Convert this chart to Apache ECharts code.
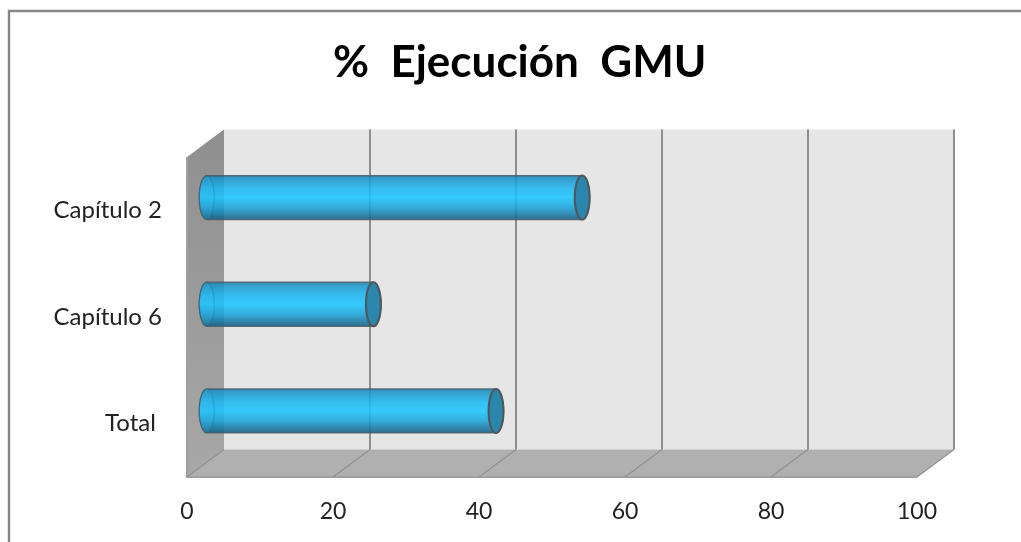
<!DOCTYPE html>
<html>
<head>
<meta charset="utf-8">
<style>html,body{margin:0;padding:0;background:#fff}#c{width:1021px;height:542px}</style>
<script src="https://cdn.jsdelivr.net/npm/echarts@6/dist/echarts.min.js"></script>
</head>
<body>
<div id="c"></div>
<script>
const titleText = '%  Ejecución  GMU';
const categories = ['Capítulo 2', 'Capítulo 6', 'Total '];
const values = [51.6, 23.0, 39.8];
const xTicks = [0, 20, 40, 60, 80, 100];

const depthX = 37, depthY = 27.5;
const font = 'Lato, "Open Sans", sans-serif';
const chart = echarts.init(document.getElementById('c'), null, {renderer: 'canvas'});

function renderWalls(params) {
  const g = params.coordSys;
  const l = g.x, r = g.x + g.width, t = g.y, b = g.y + g.height;
  return {
    type: 'group', silent: true, children: [
      {type: 'polygon', shape: {points: [[l + depthX, t - depthY], [r + depthX, t - depthY], [r + depthX, b - depthY], [l + depthX, b - depthY]]},
        style: {fill: '#e6e6e6'}},
      {type: 'polygon', shape: {points: [[l, t], [l + depthX, t - depthY], [l + depthX, b - depthY], [l, b]]},
        style: {fill: new echarts.graphic.LinearGradient(0, 0, 0, 1, [{offset: 0, color: '#8f8f8f'}, {offset: 1, color: '#a8a8a8'}])}},
      {type: 'polygon', shape: {points: [[l, b], [l + depthX, b - depthY], [r + depthX, b - depthY], [r, b]]},
        style: {fill: '#b0b0b0'}},
      {type: 'polyline', shape: {points: [[l, t], [l, b], [r, b]]},
        style: {stroke: '#a0a0a0', lineWidth: 2, fill: 'none'}}
    ]
  };
}

function renderGrid(params, api) {
  const g = params.coordSys;
  const v = api.value(0);
  const x = api.coord([v, 0])[0];
  const t = g.y - depthY, b = g.y + g.height;
  const children = [
    {type: 'line', shape: {x1: x, y1: b, x2: x + depthX, y2: b - depthY},
      style: {stroke: '#929292', lineWidth: 1.3}}
  ];
  if (v !== xTicks[0]) {
    children.push({type: 'line', shape: {x1: x + depthX, y1: t, x2: x + depthX, y2: b - depthY},
      style: {stroke: '#8e8e8e', lineWidth: 2}});
  }
  return {type: 'group', silent: true, children};
}

function renderBar(params, api) {
  const size = api.size([0, 1])[1];
  const base = api.coord([0, api.value(1)]);
  const end = api.coord([api.value(0), api.value(1)]);
  const ry = size * 0.2065, rx = 7.5;
  const cy = base[1] - depthY / 2 + 1, x0 = base[0] + depthX / 2 + 1.2, x1 = end[0] + depthX / 2;
  const pts = [];
  for (let a = 90; a <= 270; a += 10) {
    const rad = a * Math.PI / 180;
    pts.push([x0 + rx * Math.cos(rad), cy - ry * Math.sin(rad)]);
  }
  for (let a = 270; a <= 450; a += 10) {
    const rad = a * Math.PI / 180;
    pts.push([x1 + rx * Math.cos(rad), cy - ry * Math.sin(rad)]);
  }
  const grad = new echarts.graphic.LinearGradient(0, 0, 0, 1, [
    {offset: 0, color: '#1b6a90'}, {offset: 0.07, color: '#1a92c6'}, {offset: 0.3, color: '#1cb6f2'},
    {offset: 0.5, color: '#1cc6ff'}, {offset: 0.72, color: '#18a3da'}, {offset: 0.92, color: '#166e96'},
    {offset: 1, color: '#125a78'}
  ]);
  return {
    type: 'group', children: [
      {type: 'polygon', shape: {points: pts}, style: {fill: grad, stroke: '#4d5d66', lineWidth: 1.3, opacity: 0.87}},
      {type: 'ellipse', shape: {cx: x0, cy: cy, rx: rx, ry: ry}, style: {fill: 'rgba(60,200,255,0.12)', stroke: 'rgba(20,90,120,0.3)', lineWidth: 1}},
      {type: 'ellipse', shape: {cx: x1, cy: cy, rx: rx, ry: ry}, style: {fill: '#2a86ab', stroke: '#50565a', lineWidth: 2}}
    ]
  };
}

chart.setOption({
  animation: false,
  backgroundColor: '#ffffff',
  title: {
    text: titleText, left: 328, top: 36,
    textStyle: {fontFamily: font, fontWeight: 'bold', fontSize: 44, color: '#000'}
  },
  grid: {left: 187, right: 104, top: 157, bottom: 65, containLabel: false},
  xAxis: {
    type: 'value', min: 0, max: 100, interval: 20,
    axisLine: {show: false}, axisTick: {show: false}, splitLine: {show: false},
    axisLabel: {fontFamily: font, fontSize: 23, color: '#222', margin: 23}
  },
  yAxis: {
    type: 'category', inverse: true, data: categories,
    axisLine: {show: false}, axisTick: {show: false}, splitLine: {show: false},
    axisLabel: {fontFamily: font, fontSize: 24, color: '#222', margin: 25, padding: [4, 0, 0, 0]}
  },
  graphic: [{
    type: 'polyline', silent: true, shape: {points: [[9, 542], [9, 11], [1021, 11]]},
    style: {stroke: '#868686', lineWidth: 2.4, fill: 'none'}
  }],
  series: [
    {type: 'custom', name: 'walls', coordinateSystem: 'cartesian2d', clip: false, z: 1, silent: true,
      data: [[xTicks[0], categories[0]]], renderItem: renderWalls},
    {type: 'custom', name: 'grid', coordinateSystem: 'cartesian2d', clip: false, z: 2, silent: true,
      data: xTicks.map(v => [v, categories[0]]), encode: {x: 0, y: 1}, renderItem: renderGrid},
    {type: 'custom', name: '% Ejecución GMU', coordinateSystem: 'cartesian2d', clip: false, z: 3,
      data: values.map((v, i) => [v, categories[i]]), encode: {x: 0, y: 1}, renderItem: renderBar}
  ]
});
</script>
</body>
</html>
